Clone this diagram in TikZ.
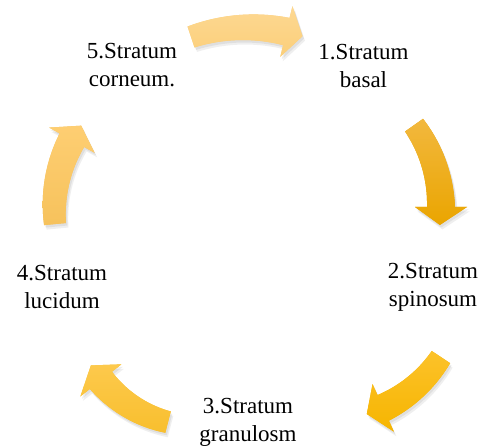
\documentclass[tikz,border=0pt]{standalone}
\usepackage{fontspec}
\setmainfont{Liberation Serif}
\usetikzlibrary{shadows}
\definecolor{aonetop}{HTML}{FDD892}
\definecolor{aonebot}{HTML}{FBCF7A}
\definecolor{atwotop}{HTML}{F2B83E}
\definecolor{atwobot}{HTML}{EAA500}
\definecolor{athreetop}{HTML}{FCC22A}
\definecolor{athreebot}{HTML}{F6B500}
\definecolor{afourtop}{HTML}{FDC94C}
\definecolor{afourbot}{HTML}{F8BF2E}
\definecolor{afivetop}{HTML}{FECE72}
\definecolor{afivebot}{HTML}{F6C25C}
\def\wa{22}
\def\wb{28}
\def\hw{26}
% #1 ox, #2 oy, #3 r0, #4 r1, #5 a0 (tail), #6 ah (head base), #7 a1 (tip), #8 top colour, #9 bottom colour
\newcommand{\cycarrow}[9]{%
  \path[arrowbody, preaction={fill=#9}, top color=#8, bottom color=#9]
   plot[domain=0:1, samples=40, variable=\t]
    ({(#1)+((#3)+((#4)-(#3))*\t+(\wa+(\wb-\wa)*\t)/2)*cos((#5)+((#6)-(#5))*\t)},
     {(#2)+((#3)+((#4)-(#3))*\t+(\wa+(\wb-\wa)*\t)/2)*sin((#5)+((#6)-(#5))*\t)})
   -- ({(#1)+((#4)+\hw)*cos(#6)},{(#2)+((#4)+\hw)*sin(#6)})
   -- ({(#1)+(#4)*cos(#7)},{(#2)+(#4)*sin(#7)})
   -- ({(#1)+((#4)-\hw)*cos(#6)},{(#2)+((#4)-\hw)*sin(#6)})
   -- plot[domain=0:1, samples=40, variable=\t]
    ({(#1)+((#4)+((#3)-(#4))*\t-(\wb+(\wa-\wb)*\t)/2)*cos((#6)+((#5)-(#6))*\t)},
     {(#2)+((#4)+((#3)-(#4))*\t-(\wb+(\wa-\wb)*\t)/2)*sin((#6)+((#5)-(#6))*\t)})
   -- cycle;
}
\begin{document}
\begin{tikzpicture}[x=1pt,y=1pt,
  arrowbody/.style={draw=none,
    drop shadow={opacity=0.14, shadow xshift=1.5pt, shadow yshift=-2.5pt},
    drop shadow={opacity=0.12, shadow xshift=2.5pt, shadow yshift=-4.5pt}},
  lab/.style={align=center, inner sep=0pt, font=\fontsize{23}{28}\selectfont}]
\useasboundingbox[fill=white] (0,0) rectangle (481,447);
% arrows
\cycarrow{245.5}{245.3}{173.5}{175}{108.3}{76.5}{71}{aonetop}{aonebot}
\cycarrow{298}{240}{142}{143}{35.2}{0}{-7.2}{atwotop}{atwobot}
\cycarrow{326.4}{166}{137.5}{139}{-33.6}{-65.9}{-73.1}{athreetop}{athreebot}
\cycarrow{198.6}{143}{122}{124}{-104.5}{-142}{-150.3}{afourtop}{afourbot}
\cycarrow{198.7}{236.5}{144.3}{145}{185.4}{151}{144.2}{afivetop}{afivebot}
% labels
\node[lab] (l1) at (363.5,381) {1.Stratum\\basal};
\node[lab] (l2) at (433,160) {2.Stratum\\spinosum};
\node[lab] (l3) at (248,25) {3.Stratum\\granulosm};
\node[lab] (l4) at (62,160) {4.Stratum\\lucidum};
\node[lab] (l5) at (132,382) {5.Stratum\\corneum.};
\end{tikzpicture}
\end{document}
